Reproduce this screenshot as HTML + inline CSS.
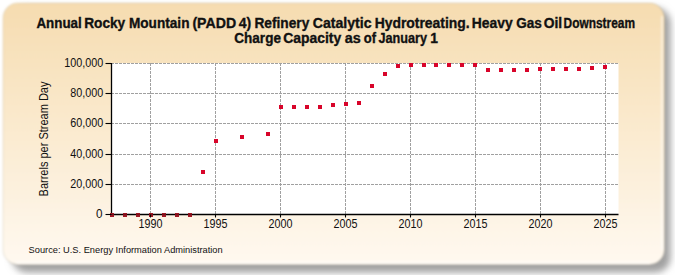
<!DOCTYPE html>
<html><head><meta charset="utf-8">
<style>
html,body{margin:0;padding:0;background:#ffffff;}
body{width:675px;height:275px;overflow:hidden;position:relative;font-family:"Liberation Sans",sans-serif;}
svg{position:absolute;left:0;top:0;}
.t{font-family:"Liberation Sans",sans-serif;font-weight:bold;font-size:14.5px;fill:#111;stroke:#111;stroke-width:0.35px;}
.yl,.xl{font-family:"Liberation Sans",sans-serif;font-size:12.5px;fill:#111;}
.src{font-family:"Liberation Sans",sans-serif;font-size:9.6px;fill:#111;}
.at{font-family:"Liberation Sans",sans-serif;font-size:12px;fill:#111;}
</style></head><body>
<svg width="675" height="275" viewBox="0 0 675 275">
<defs>
<linearGradient id="bg" x1="0" y1="0" x2="0" y2="1">
<stop offset="0" stop-color="#f6dcb0"/>
<stop offset="1" stop-color="#fff9f0"/>
</linearGradient>
<filter id="sh" x="-10%" y="-10%" width="120%" height="130%"><feGaussianBlur stdDeviation="3.5"/></filter>
<filter id="cb" x="-2%" y="-2%" width="104%" height="104%"><feGaussianBlur stdDeviation="0.9"/></filter>
</defs>
<rect x="12" y="8" width="658.5" height="264.5" rx="15" fill="#a0a0a0" filter="url(#sh)"/>
<rect x="3" y="3" width="661.3" height="261.5" rx="15" fill="url(#bg)" stroke="#a89c80" stroke-opacity="0.22" stroke-width="1.2" filter="url(#cb)"/>
<path d="M16 262.5 H650 M662 16 V250" fill="none" stroke="#ffffff" stroke-opacity="0.5" stroke-width="2" filter="url(#cb)"/>
<text x="36.43" y="27.9" class="t" textLength="45.33" lengthAdjust="spacingAndGlyphs">Annual</text>
<text x="84.16" y="27.9" class="t" textLength="41.06" lengthAdjust="spacingAndGlyphs">Rocky</text>
<text x="128.96" y="27.9" class="t" textLength="60.52" lengthAdjust="spacingAndGlyphs">Mountain</text>
<text x="192.42" y="27.9" class="t" textLength="43.71" lengthAdjust="spacingAndGlyphs">(PADD</text>
<text x="238.71" y="27.9" class="t" textLength="12.46" lengthAdjust="spacingAndGlyphs">4)</text>
<text x="254.45" y="27.9" class="t" textLength="54.86" lengthAdjust="spacingAndGlyphs">Refinery</text>
<text x="312.72" y="27.9" class="t" textLength="58.81" lengthAdjust="spacingAndGlyphs">Catalytic</text>
<text x="374.64" y="27.9" class="t" textLength="95.01" lengthAdjust="spacingAndGlyphs">Hydrotreating.</text>
<text x="471.84" y="27.9" class="t" textLength="40.88" lengthAdjust="spacingAndGlyphs">Heavy</text>
<text x="516.24" y="27.9" class="t" textLength="25.63" lengthAdjust="spacingAndGlyphs">Gas</text>
<text x="543.73" y="27.9" class="t" textLength="18.46" lengthAdjust="spacingAndGlyphs">Oil</text>
<text x="563.58" y="27.9" class="t" textLength="71.38" lengthAdjust="spacingAndGlyphs">Downstream</text>
<text x="234.34" y="43.1" class="t" textLength="46.59" lengthAdjust="spacingAndGlyphs">Charge</text>
<text x="283.22" y="43.1" class="t" textLength="58.02" lengthAdjust="spacingAndGlyphs">Capacity</text>
<text x="344.8" y="43.1" class="t" textLength="16.02" lengthAdjust="spacingAndGlyphs">as</text>
<text x="363.76" y="43.1" class="t" textLength="12.23" lengthAdjust="spacingAndGlyphs">of</text>
<text x="378.53" y="43.1" class="t" textLength="48.59" lengthAdjust="spacingAndGlyphs">January</text>
<text x="430.34" y="43.1" class="t" textLength="7.71" lengthAdjust="spacingAndGlyphs">1</text>
<rect x="111.5" y="63.0" width="507.0" height="151.5" fill="#ffffff"/>
<line x1="111" y1="184.5" x2="618.5" y2="184.5" stroke="#a0a0a0" stroke-width="1" stroke-dasharray="3,1"/>
<line x1="111" y1="154.5" x2="618.5" y2="154.5" stroke="#a0a0a0" stroke-width="1" stroke-dasharray="3,1"/>
<line x1="111" y1="123.5" x2="618.5" y2="123.5" stroke="#a0a0a0" stroke-width="1" stroke-dasharray="3,1"/>
<line x1="111" y1="93.5" x2="618.5" y2="93.5" stroke="#a0a0a0" stroke-width="1" stroke-dasharray="3,1"/>
<line x1="111" y1="63.5" x2="618.5" y2="63.5" stroke="#a0a0a0" stroke-width="1" stroke-dasharray="3,1"/>
<line x1="150.5" y1="63.0" x2="150.5" y2="214.5" stroke="#a0a0a0" stroke-width="1" stroke-dasharray="3,1"/>
<line x1="215.5" y1="63.0" x2="215.5" y2="214.5" stroke="#a0a0a0" stroke-width="1" stroke-dasharray="3,1"/>
<line x1="280.5" y1="63.0" x2="280.5" y2="214.5" stroke="#a0a0a0" stroke-width="1" stroke-dasharray="3,1"/>
<line x1="345.5" y1="63.0" x2="345.5" y2="214.5" stroke="#a0a0a0" stroke-width="1" stroke-dasharray="3,1"/>
<line x1="410.5" y1="63.0" x2="410.5" y2="214.5" stroke="#a0a0a0" stroke-width="1" stroke-dasharray="3,1"/>
<line x1="475.5" y1="63.0" x2="475.5" y2="214.5" stroke="#a0a0a0" stroke-width="1" stroke-dasharray="3,1"/>
<line x1="540.5" y1="63.0" x2="540.5" y2="214.5" stroke="#a0a0a0" stroke-width="1" stroke-dasharray="3,1"/>
<line x1="605.5" y1="63.0" x2="605.5" y2="214.5" stroke="#a0a0a0" stroke-width="1" stroke-dasharray="3,1"/>
<rect x="201" y="170" width="4" height="4" fill="#d8042a"/>
<rect x="214" y="139" width="4" height="4" fill="#d8042a"/>
<rect x="240" y="135" width="4" height="4" fill="#d8042a"/>
<rect x="266" y="132" width="4" height="4" fill="#d8042a"/>
<rect x="279" y="105" width="4" height="4" fill="#d8042a"/>
<rect x="292" y="105" width="4" height="4" fill="#d8042a"/>
<rect x="305" y="105" width="4" height="4" fill="#d8042a"/>
<rect x="318" y="105" width="4" height="4" fill="#d8042a"/>
<rect x="331" y="103" width="4" height="4" fill="#d8042a"/>
<rect x="344" y="102" width="4" height="4" fill="#d8042a"/>
<rect x="357" y="101" width="4" height="4" fill="#d8042a"/>
<rect x="370" y="84" width="4" height="4" fill="#d8042a"/>
<rect x="383" y="72" width="4" height="4" fill="#d8042a"/>
<rect x="396" y="64" width="4" height="4" fill="#d8042a"/>
<rect x="409" y="63" width="4" height="4" fill="#d8042a"/>
<rect x="422" y="63" width="4" height="4" fill="#d8042a"/>
<rect x="434" y="63" width="4" height="4" fill="#d8042a"/>
<rect x="447" y="63" width="4" height="4" fill="#d8042a"/>
<rect x="460" y="63" width="4" height="4" fill="#d8042a"/>
<rect x="473" y="63" width="4" height="4" fill="#d8042a"/>
<rect x="486" y="68" width="4" height="4" fill="#d8042a"/>
<rect x="499" y="68" width="4" height="4" fill="#d8042a"/>
<rect x="512" y="68" width="4" height="4" fill="#d8042a"/>
<rect x="525" y="68" width="4" height="4" fill="#d8042a"/>
<rect x="538" y="67" width="4" height="4" fill="#d8042a"/>
<rect x="551" y="67" width="4" height="4" fill="#d8042a"/>
<rect x="564" y="67" width="4" height="4" fill="#d8042a"/>
<rect x="577" y="67" width="4" height="4" fill="#d8042a"/>
<rect x="590" y="66" width="4" height="4" fill="#d8042a"/>
<rect x="603" y="65" width="4" height="4" fill="#d8042a"/>
<line x1="111.5" y1="63.0" x2="111.5" y2="215.0" stroke="#000" stroke-width="1.3"/>
<line x1="111.0" y1="214.5" x2="618.5" y2="214.5" stroke="#000" stroke-width="1.3"/>
<rect x="110" y="213" width="4" height="4" fill="#a01825"/>
<line x1="110" y1="214.5" x2="114" y2="214.5" stroke="#000" stroke-width="1.3" opacity="0.25"/>
<rect x="123" y="213" width="4" height="4" fill="#a01825"/>
<line x1="123" y1="214.5" x2="127" y2="214.5" stroke="#000" stroke-width="1.3" opacity="0.25"/>
<rect x="136" y="213" width="4" height="4" fill="#a01825"/>
<line x1="136" y1="214.5" x2="140" y2="214.5" stroke="#000" stroke-width="1.3" opacity="0.25"/>
<rect x="149" y="213" width="4" height="4" fill="#a01825"/>
<line x1="149" y1="214.5" x2="153" y2="214.5" stroke="#000" stroke-width="1.3" opacity="0.25"/>
<rect x="162" y="213" width="4" height="4" fill="#a01825"/>
<line x1="162" y1="214.5" x2="166" y2="214.5" stroke="#000" stroke-width="1.3" opacity="0.25"/>
<rect x="175" y="213" width="4" height="4" fill="#a01825"/>
<line x1="175" y1="214.5" x2="179" y2="214.5" stroke="#000" stroke-width="1.3" opacity="0.25"/>
<rect x="188" y="213" width="4" height="4" fill="#a01825"/>
<line x1="188" y1="214.5" x2="192" y2="214.5" stroke="#000" stroke-width="1.3" opacity="0.25"/>
<line x1="105.5" y1="214.5" x2="111.5" y2="214.5" stroke="#000" stroke-width="1.1"/>
<text x="95.93" y="217.8" class="yl" textLength="6.49" lengthAdjust="spacingAndGlyphs">0</text>
<line x1="105.5" y1="184.5" x2="111.5" y2="184.5" stroke="#000" stroke-width="1.1"/>
<text x="70.17" y="187.8" class="yl" textLength="33.0" lengthAdjust="spacingAndGlyphs">20,000</text>
<line x1="105.5" y1="154.5" x2="111.5" y2="154.5" stroke="#000" stroke-width="1.1"/>
<text x="70.17" y="157.8" class="yl" textLength="33.0" lengthAdjust="spacingAndGlyphs">40,000</text>
<line x1="105.5" y1="123.5" x2="111.5" y2="123.5" stroke="#000" stroke-width="1.1"/>
<text x="70.17" y="126.8" class="yl" textLength="33.0" lengthAdjust="spacingAndGlyphs">60,000</text>
<line x1="105.5" y1="93.5" x2="111.5" y2="93.5" stroke="#000" stroke-width="1.1"/>
<text x="70.17" y="96.8" class="yl" textLength="33.0" lengthAdjust="spacingAndGlyphs">80,000</text>
<line x1="105.5" y1="63.5" x2="111.5" y2="63.5" stroke="#000" stroke-width="1.1"/>
<text x="64.19" y="66.8" class="yl" textLength="39.03" lengthAdjust="spacingAndGlyphs">100,000</text>
<line x1="150.5" y1="214.5" x2="150.5" y2="217.5" stroke="#000" stroke-width="1.1"/>
<text x="138.60" y="227.6" class="xl" textLength="23.91" lengthAdjust="spacingAndGlyphs">1990</text>
<line x1="215.5" y1="214.5" x2="215.5" y2="217.5" stroke="#000" stroke-width="1.1"/>
<text x="203.60" y="227.6" class="xl" textLength="23.91" lengthAdjust="spacingAndGlyphs">1995</text>
<line x1="280.5" y1="214.5" x2="280.5" y2="217.5" stroke="#000" stroke-width="1.1"/>
<text x="268.60" y="227.6" class="xl" textLength="23.91" lengthAdjust="spacingAndGlyphs">2000</text>
<line x1="345.5" y1="214.5" x2="345.5" y2="217.5" stroke="#000" stroke-width="1.1"/>
<text x="333.60" y="227.6" class="xl" textLength="23.91" lengthAdjust="spacingAndGlyphs">2005</text>
<line x1="410.5" y1="214.5" x2="410.5" y2="217.5" stroke="#000" stroke-width="1.1"/>
<text x="398.60" y="227.6" class="xl" textLength="23.91" lengthAdjust="spacingAndGlyphs">2010</text>
<line x1="475.5" y1="214.5" x2="475.5" y2="217.5" stroke="#000" stroke-width="1.1"/>
<text x="463.60" y="227.6" class="xl" textLength="23.91" lengthAdjust="spacingAndGlyphs">2015</text>
<line x1="540.5" y1="214.5" x2="540.5" y2="217.5" stroke="#000" stroke-width="1.1"/>
<text x="528.60" y="227.6" class="xl" textLength="23.91" lengthAdjust="spacingAndGlyphs">2020</text>
<line x1="605.5" y1="214.5" x2="605.5" y2="217.5" stroke="#000" stroke-width="1.1"/>
<text x="593.60" y="227.6" class="xl" textLength="23.91" lengthAdjust="spacingAndGlyphs">2025</text>
<text transform="translate(47.6,196.42) rotate(-90)" class="at" textLength="114.89" lengthAdjust="spacingAndGlyphs">Barrels per Stream Day</text>
<text x="28.62" y="253.1" class="src" textLength="194.02" lengthAdjust="spacingAndGlyphs">Source: U.S. Energy Information Administration</text>
</svg>
</body></html>
